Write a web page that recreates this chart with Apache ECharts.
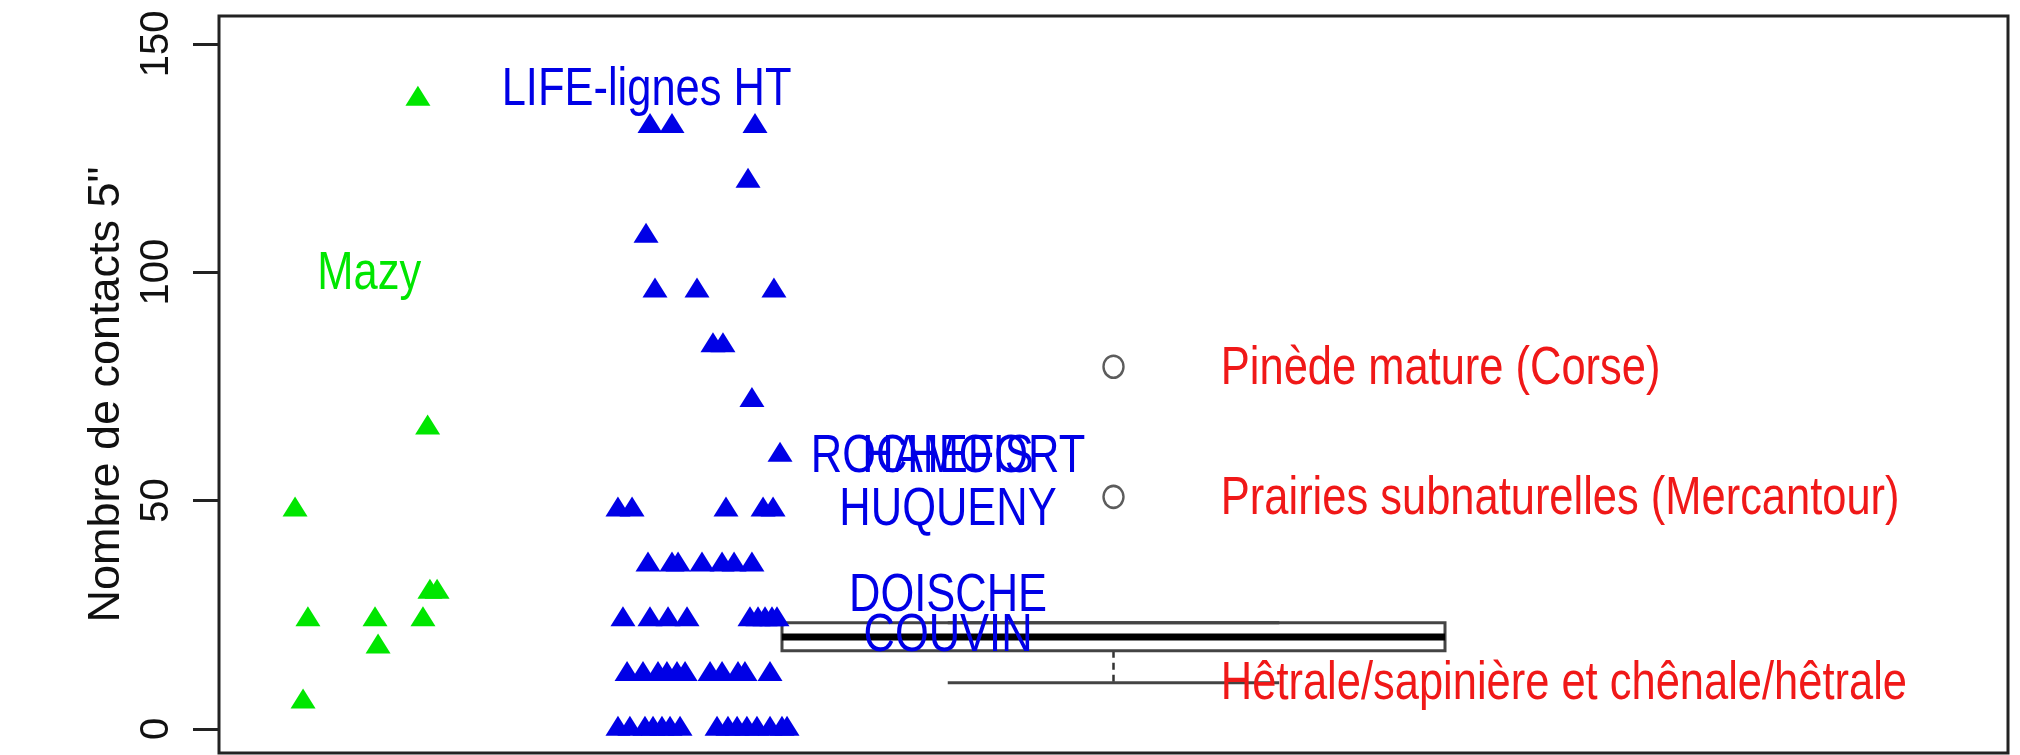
<!DOCTYPE html>
<html><head><meta charset="utf-8">
<script src="https://cdn.jsdelivr.net/npm/echarts@6/dist/echarts.min.js"></script>
<style>html,body{margin:0;padding:0;background:#fff}#c{width:2020px;height:755px}</style>
</head><body><div id="c"></div>
<script>
// ---- data ----
const yTicks = [0, 50, 100, 150];
const yTitle = 'Nombre de contacts 5"';

// Mazy (green triangles)
const mazyX = [0.5425, 0.5470, 0.5497, 0.5872, 0.5889, 0.6112, 0.6166, 0.6140, 0.6179, 0.6219];
const mazyY = [48, 6, 24, 24, 18, 138, 66, 24, 30, 30];

// LIFE-lignes HT (blue triangles)
const lifeX = [
  0.7409, 0.7532, 0.7996,
  0.7957,
  0.7387,
  0.7437, 0.7672, 0.8102,
  0.7761, 0.7817,
  0.7979,
  0.8136,
  0.7230, 0.7309, 0.7834, 0.8041, 0.8097,
  0.7398, 0.7532, 0.7566, 0.7700, 0.7812, 0.7879, 0.7979,
  0.7258, 0.7409, 0.7510, 0.7616, 0.7968, 0.8013, 0.8052, 0.8091, 0.8119,
  0.7281, 0.7370, 0.7454, 0.7504, 0.7560, 0.7605, 0.7745, 0.7812, 0.7901, 0.7940, 0.8080,
  0.7230, 0.7297, 0.7381, 0.7426, 0.7476, 0.7521, 0.7577, 0.7784, 0.7845, 0.7896, 0.7951, 0.8007, 0.8080, 0.8147, 0.8175
];
const lifeY = [
  132, 132, 132,
  120,
  108,
  96, 96, 96,
  84, 84,
  72,
  60,
  48, 48, 48, 48, 48,
  36, 36, 36, 36, 36, 36, 36,
  24, 24, 24, 24, 24, 24, 24, 24, 24,
  12, 12, 12, 12, 12, 12, 12, 12, 12, 12, 12,
  0, 0, 0, 0, 0, 0, 0, 0, 0, 0, 0, 0, 0, 0, 0
];

// reference boxplot (low whisker, Q1, median, Q3, high whisker)
const boxPos = [1.0];
const boxStats = [[10.1, 17.1, 20.1, 23.2, 23.2]];
const outlierX = [1.0, 1.0];
const outlierY = [79.3, 50.8];

// site labels (blue)
const siteNames = ['LIFE-lignes HT', 'ROCHEFORT', 'HAMOIS', 'HUQUENY', 'DOISCHE', 'COUVIN'];
const siteX = [0.739, 0.9075, 0.9075, 0.9075, 0.9075, 0.9075];
const siteY = [140.5, 60.0, 60.0, 48.5, 29.6, 20.8];
// green label
const mazyLabel = ['Mazy'];
const mazyLabelX = [0.584];
const mazyLabelY = [100.1];
// habitat labels (red)
const habitatNames = ['Pinède mature (Corse)', 'Prairies subnaturelles (Mercantour)', 'Hêtrale/sapinière et chênale/hêtrale'];
const habitatX = [1.06, 1.06, 1.06];
const habitatY = [79.3, 50.8, 10.4];

// ---- styles ----
const FONT = "'Liberation Sans', Arial, sans-serif";
const LABEL_SIZE = 53;
const CONDENSE = 0.82;
const GREEN = '#00e600';
const BLUE = '#0000e6';
const RED = '#f01818';
const BOX_HALF = 0.1853;   // half box width, x units
const TRI = [25, 20];

function zip(a, b) { return a.map((v, i) => [v, b[i]]); }

function textSeries(names, xs, ys, color, align) {
  return {
    type: 'custom', z: 6,
    data: zip(xs, ys),
    encode: { x: 0, y: 1 },
    renderItem: function (params, api) {
      const p = api.coord([api.value(0), api.value(1)]);
      return {
        type: 'text', x: p[0], y: p[1] + 3, scaleX: CONDENSE, scaleY: 1,
        style: {
          text: names[params.dataIndex], fill: color,
          fontSize: LABEL_SIZE, fontFamily: FONT,
          align: align, verticalAlign: 'middle'
        }
      };
    }
  };
}

const chart = echarts.init(document.getElementById('c'), null, { renderer: 'canvas' });
chart.setOption({
  animation: false,
  backgroundColor: '#ffffff',
  grid: { left: 219, right: 12, top: 16, bottom: 2, show: true, borderColor: '#222', borderWidth: 3, backgroundColor: 'transparent' },
  xAxis: { type: 'value', min: 0.5, max: 1.5, show: false },
  yAxis: {
    type: 'value', min: -5.3, max: 156.1,
    axisLine: { show: false },
    splitLine: { show: false },
    axisTick: { show: true, customValues: yTicks, length: 26, inside: false, lineStyle: { color: '#222', width: 3 } },
    axisLabel: { show: true, customValues: yTicks, rotate: 90, margin: 42, fontSize: 40, fontFamily: FONT, color: '#111' },
    name: yTitle, nameLocation: 'middle', nameRotate: 90, nameGap: 87,
    nameTextStyle: { fontSize: 45, fontFamily: FONT, color: '#111', padding: [0, 20, 0, 0] }
  },
  series: [
    {
      type: 'custom', z: 2,
      data: boxStats.map((s, i) => [boxPos[i]].concat(s)),
      encode: { x: 0, y: [1, 2, 3, 4, 5] },
      renderItem: function (params, api) {
        const x = api.value(0), lo = api.value(1), q1 = api.value(2), md = api.value(3), q3 = api.value(4), hi = api.value(5);
        const tl = api.coord([x - BOX_HALF, q3]);
        const br = api.coord([x + BOX_HALF, q1]);
        const mL = api.coord([x - BOX_HALF, md]);
        const mR = api.coord([x + BOX_HALF, md]);
        const c1 = api.coord([x, q1]);
        const cLo = api.coord([x, lo]);
        const c3 = api.coord([x, q3]);
        const cHi = api.coord([x, hi]);
        const capL = api.coord([x - BOX_HALF / 2, lo]);
        const capR = api.coord([x + BOX_HALF / 2, lo]);
        const capL2 = api.coord([x - BOX_HALF / 2, hi]);
        const capR2 = api.coord([x + BOX_HALF / 2, hi]);
        return {
          type: 'group', children: [
            { type: 'line', shape: { x1: c1[0], y1: c1[1], x2: cLo[0], y2: cLo[1] }, style: { stroke: '#333', lineWidth: 2.5, lineDash: [7, 5] } },
            { type: 'line', shape: { x1: c3[0], y1: c3[1], x2: cHi[0], y2: cHi[1] }, style: { stroke: '#333', lineWidth: 2.5, lineDash: [7, 5] } },
            { type: 'line', shape: { x1: capL[0], y1: capL[1], x2: capR[0], y2: capR[1] }, style: { stroke: '#444', lineWidth: 3 } },
            { type: 'line', shape: { x1: capL2[0], y1: capL2[1], x2: capR2[0], y2: capR2[1] }, style: { stroke: '#333', lineWidth: 3 } },
            { type: 'rect', shape: { x: tl[0], y: tl[1], width: br[0] - tl[0], height: br[1] - tl[1] }, style: { fill: 'rgba(255,255,255,0)', stroke: '#444', lineWidth: 3 } },
            { type: 'line', shape: { x1: mL[0], y1: mL[1], x2: mR[0], y2: mR[1] }, style: { stroke: '#000', lineWidth: 7 } }
          ]
        };
      }
    },
    {
      type: 'scatter', z: 3, data: zip(outlierX, outlierY),
      symbol: 'circle', symbolSize: [20, 22],
      itemStyle: { color: '#fff', borderColor: '#333', borderWidth: 2.5 }
    },
    {
      type: 'scatter', z: 3, data: zip(mazyX, mazyY),
      symbol: 'triangle', symbolSize: TRI, symbolOffset: [0, -3],
      itemStyle: { color: GREEN, opacity: 1 }
    },
    {
      type: 'scatter', z: 3, data: zip(lifeX, lifeY),
      symbol: 'triangle', symbolSize: TRI, symbolOffset: [0, -3],
      itemStyle: { color: BLUE, opacity: 1 }
    },
    textSeries(siteNames, siteX, siteY, BLUE, 'center'),
    textSeries(mazyLabel, mazyLabelX, mazyLabelY, GREEN, 'center'),
    textSeries(habitatNames, habitatX, habitatY, RED, 'left')
  ]
});
</script>
</body></html>
